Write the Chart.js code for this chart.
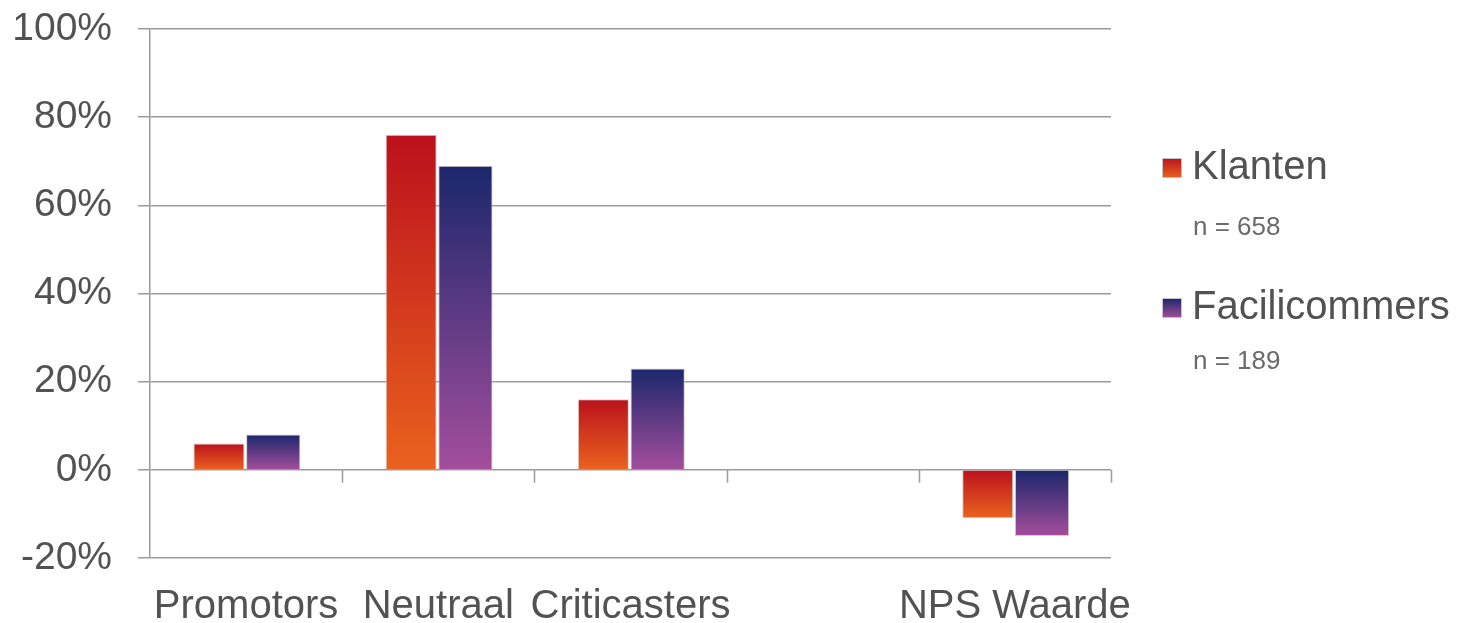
<!DOCTYPE html>
<html>
<head>
<meta charset="utf-8">
<title>NPS Klanten vs Facilicommers</title>
<script src="https://cdn.jsdelivr.net/npm/chart.js@4/dist/chart.umd.min.js"></script>
<style>
  html, body { margin: 0; padding: 0; background: #ffffff; }
  #wrap { width: 1459px; height: 623px; position: relative; }
</style>
</head>
<body>
<div id="wrap"><canvas id="chart" width="1459" height="623"></canvas></div>
<script>
// Categories along the x axis (the fourth slot is intentionally empty)
const categories = ['Promotors', 'Neutraal', 'Criticasters', '', 'NPS Waarde'];

// Series values in percent
const klanten = [6, 76, 16, null, -11];
const facilicommers = [8, 69, 23, null, -15];

// Series names and sample sizes shown in the legend
const seriesNames = ['Klanten', 'Facilicommers'];
const sampleSizes = ['n = 658', 'n = 189'];

// Y axis ticks
const yTicks = [-20, 0, 20, 40, 60, 80, 100];

const FONT = "'Liberation Sans', Arial, sans-serif";
const TEXT = '#525252';
const GRID = '#9b9b9b';

// Top/bottom colours of each series' vertical gradient
const gradients = [
  ['#bb111c', '#ea621e'],
  ['#1b276c', '#a44e9c']
];

function barFill(ctx) {
  const stops = gradients[ctx.datasetIndex];
  const chart = ctx.chart;
  if (!chart.chartArea || ctx.type !== 'data' || ctx.raw == null) return stops[0];
  const y = chart.scales.y;
  const p0 = y.getPixelForValue(0);
  const p1 = y.getPixelForValue(ctx.raw);
  const top = Math.min(p0, p1), bottom = Math.max(p0, p1);
  if (bottom - top < 1) return stops[0];
  const g = chart.ctx.createLinearGradient(0, top, 0, bottom);
  g.addColorStop(0, stops[0]);
  g.addColorStop(1, stops[1]);
  return g;
}

// Small tick marks hanging below the zero line at each category boundary
const zeroTicks = {
  id: 'zeroTicks',
  afterDraw(chart) {
    const x = chart.scales.x, y = chart.scales.y;
    const y0 = y.getPixelForValue(0);
    const step = (x.right - x.left) / categories.length;
    const c = chart.ctx;
    c.save();
    c.strokeStyle = GRID;
    c.lineWidth = 1.5;
    c.beginPath();
    for (let i = 1; i <= categories.length; i++) {
      const px = Math.round(x.left + i * step) + 0.5;
      c.moveTo(px, y0);
      c.lineTo(px, y0 + 13);
    }
    c.stroke();
    c.restore();
  }
};

// Legend on the right with sample sizes below each entry
const sideLegend = {
  id: 'sideLegend',
  afterDraw(chart) {
    const c = chart.ctx;
    const rows = [168, 308];
    const nRows = [228, 362];
    c.save();
    seriesNames.forEach((name, i) => {
      const cy = rows[i];
      const g = c.createLinearGradient(0, cy - 10, 0, cy + 10);
      g.addColorStop(0, gradients[i][0]);
      g.addColorStop(1, gradients[i][1]);
      c.fillStyle = g;
      c.fillRect(1162, cy - 10, 20, 20);
      c.strokeStyle = 'rgba(200,195,195,1)';
      c.lineWidth = 1;
      c.strokeRect(1162.5, cy - 9.5, 19, 19);

      c.fillStyle = TEXT;
      c.textBaseline = 'middle';
      c.textAlign = 'left';
      c.font = '40px ' + FONT;
      c.fillText(name, 1192, cy);

      c.fillStyle = '#6a6a6a';
      c.font = '26px ' + FONT;
      c.fillText(sampleSizes[i], 1193, nRows[i]);
    });
    c.restore();
  }
};

new Chart(document.getElementById('chart'), {
  type: 'bar',
  data: {
    labels: categories,
    datasets: [
      {
        label: seriesNames[0],
        data: klanten,
        backgroundColor: barFill,
        borderColor: 'rgba(214,204,200,1)',
        borderWidth: 1,
        barPercentage: 0.94,
        categoryPercentage: 0.565
      },
      {
        label: seriesNames[1],
        data: facilicommers,
        backgroundColor: barFill,
        borderColor: 'rgba(214,204,200,1)',
        borderWidth: 1,
        barPercentage: 1.0,
        categoryPercentage: 0.565
      }
    ]
  },
  options: {
    responsive: false,
    animation: false,
    events: [],
    layout: { padding: { top: 29, right: 348, bottom: 0, left: 0 } },
    plugins: {
      legend: { display: false },
      tooltip: { enabled: false }
    },
    scales: {
      x: {
        grid: { display: false, drawTicks: false },
        border: { display: false },
        ticks: {
          color: TEXT,
          font: { family: FONT, size: 40 },
          padding: 25,
          maxRotation: 0,
          autoSkip: false
        },
        afterFit(scale) { scale.height = 65; }
      },
      y: {
        min: -20,
        max: 100,
        afterBuildTicks(scale) { scale.ticks = yTicks.map(v => ({ value: v })); },
        grid: { color: GRID, lineWidth: 1.5, tickLength: 12, drawTicks: true },
        border: { display: true, color: GRID, width: 1.5 },
        ticks: {
          color: TEXT,
          font: { family: FONT, size: 39 },
          padding: 26,
          callback: v => v + '%'
        },
        afterFit(scale) {
          scale.width = 150;
          scale.paddingTop = 0;
          scale.paddingBottom = 0;
        }
      }
    }
  },
  plugins: [zeroTicks, sideLegend]
});
</script>
</body>
</html>
